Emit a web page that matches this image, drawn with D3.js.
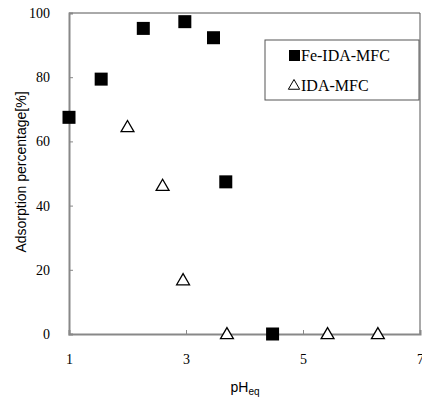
<!DOCTYPE html>
<meta charset="utf-8">
<head>
    <title>Adsorption vs pH</title>
    <script src="https://cdn.jsdelivr.net/npm/d3@7"></script>
    <style>
        body { margin: 0; background: #fff; }
        .tick text { font-family: "Liberation Serif", "Times New Roman", serif; font-size: 14px; fill: #000; }
        .axisTitle { font-family: "Liberation Sans", Arial, sans-serif; font-size: 14px; fill: #000; }
        .legendText { font-family: "Liberation Serif", "Times New Roman", serif; font-size: 16px; fill: #000; }
    </style>
</head>
<body>
<div id="chart"></div>
<script>
    // data
    var fePH  = [1.0, 1.55, 2.27, 2.98, 3.47, 3.68, 4.48];
    var feAds = [67.5, 79.4, 95.2, 97.3, 92.3, 47.4, 0];
    var idaPH  = [2.0, 2.60, 2.95, 3.70, 5.42, 6.28];
    var idaAds = [64.5, 46.2, 16.8, 0, 0, 0];
    var xTicks = [1, 3, 5, 7];
    var yTicks = [0, 20, 40, 60, 80, 100];

    var w = 422, h = 403;
    var pLeft = 69, pRight = 420, pTop = 13, pBottom = 334;

    var svg = d3.select("#chart").append("svg")
        .attr("width", w)
        .attr("height", h);

    var x = d3.scaleLinear().domain([1, 7]).range([pLeft, pRight]);
    var y = d3.scaleLinear().domain([0, 100]).range([pBottom, pTop]);

    // top and right frame
    svg.append("line").attr("x1", pLeft).attr("x2", pRight).attr("y1", pTop).attr("y2", pTop)
        .attr("stroke", "#555").attr("stroke-width", 1);
    svg.append("line").attr("x1", pRight).attr("x2", pRight).attr("y1", pTop).attr("y2", pBottom)
        .attr("stroke", "#555").attr("stroke-width", 1);

    // axes, ticks point inward
    var xAxis = svg.append("g")
        .attr("transform", "translate(0," + pBottom + ")")
        .call(d3.axisBottom(x).tickValues(xTicks).tickSize(-4).tickPadding(20).tickFormat(d3.format("d")));
    var yAxis = svg.append("g")
        .attr("transform", "translate(" + pLeft + ",0)")
        .call(d3.axisLeft(y).tickValues(yTicks).tickSize(-4).tickPadding(19).tickFormat(d3.format("d")));

    [xAxis, yAxis].forEach(function(a) {
        a.select(".domain").attr("stroke", "#888").attr("stroke-width", 2);
        a.selectAll(".tick line").attr("stroke", "#888").attr("stroke-width", 1);
    });

    // axis titles
    svg.append("text")
        .attr("class", "axisTitle")
        .attr("transform", "translate(26,172) rotate(-90)")
        .attr("text-anchor", "middle")
        .text("Adsorption  percentage[%]");

    var xt = svg.append("text")
        .attr("class", "axisTitle")
        .attr("x", 245)
        .attr("y", 392)
        .attr("text-anchor", "middle");
    xt.append("tspan").text("pH");
    xt.append("tspan").attr("font-size", "10px").attr("dy", 3).text("eq");

    // series
    var sq = 13;
    var feData = fePH.map(function(d, i) { return [d, feAds[i]]; });
    var idaData = idaPH.map(function(d, i) { return [d, idaAds[i]]; });

    var tri = d3.symbol().type(d3.symbolTriangle).size(72);

    svg.selectAll(".ida")
        .data(idaData)
        .enter()
        .append("path")
        .attr("class", "ida")
        .attr("d", tri)
        .attr("transform", function(d) { return "translate(" + x(d[0]) + "," + (y(d[1]) + 1) + ")"; })
        .attr("fill", "#fff")
        .attr("stroke", "#000")
        .attr("stroke-width", 1.3);

    svg.selectAll(".fe")
        .data(feData)
        .enter()
        .append("rect")
        .attr("class", "fe")
        .attr("x", function(d) { return x(d[0]) - sq / 2; })
        .attr("y", function(d) { return y(d[1]) - sq / 2; })
        .attr("width", sq)
        .attr("height", sq)
        .attr("fill", "#000");

    // legend
    var lg = svg.append("g");
    lg.append("rect")
        .attr("x", 265).attr("y", 40).attr("width", 154).attr("height", 60)
        .attr("fill", "#fff").attr("stroke", "#555").attr("stroke-width", 1);
    lg.append("rect")
        .attr("x", 289).attr("y", 50).attr("width", 11).attr("height", 11)
        .attr("fill", "#000");
    lg.append("text").attr("class", "legendText")
        .attr("x", 301).attr("y", 61).text("Fe-IDA-MFC");
    lg.append("path")
        .attr("d", d3.symbol().type(d3.symbolTriangle).size(55))
        .attr("transform", "translate(294,86)")
        .attr("fill", "#fff").attr("stroke", "#000").attr("stroke-width", 1);
    lg.append("text").attr("class", "legendText")
        .attr("x", 301).attr("y", 91).text("IDA-MFC");
</script>
</body>
